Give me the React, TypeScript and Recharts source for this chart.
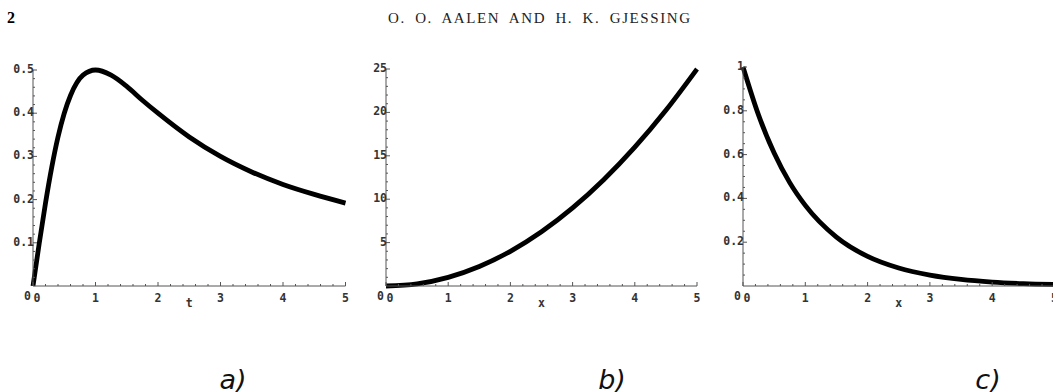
import React from 'react';
import { LineChart, Line, XAxis, YAxis, Label } from 'recharts';

// panel a) – hazard-like curve over t
const tA = [0, 0.1, 0.2, 0.3, 0.4, 0.5, 0.6, 0.8, 1, 1.25, 1.5, 1.75, 2, 2.5, 3, 3.5, 4, 4.5, 5];
const yA = [0, 0.099, 0.192, 0.275, 0.345, 0.4, 0.441, 0.488, 0.5, 0.488, 0.462, 0.43, 0.4, 0.345, 0.3, 0.264, 0.235, 0.212, 0.192];

// panel b) – rising curve over x
const xB = [0, 0.5, 1, 1.5, 2, 2.5, 3, 3.5, 4, 4.5, 5];
const yB = [0, 0.25, 1, 2.25, 4, 6.25, 9, 12.25, 16, 20.25, 25];

// panel c) – decaying curve over x
const xC = [0, 0.25, 0.5, 0.75, 1, 1.5, 2, 2.5, 3, 3.5, 4, 4.5, 5];
const yC = [1, 0.78, 0.607, 0.472, 0.368, 0.223, 0.135, 0.082, 0.05, 0.03, 0.018, 0.011, 0.007];

const xMajor = [0, 1, 2, 3, 4, 5];
const yMajorA = [0, 0.1, 0.2, 0.3, 0.4, 0.5];
const yMajorB = [0, 5, 10, 15, 20, 25];
const yMajorC = [0, 0.2, 0.4, 0.6, 0.8, 1];
const yLabelsA = ['0', '0.1', '0.2', '0.3', '0.4', '0.5'];
const yLabelsB = ['0', '5', '10', '15', '20', '25'];
const yLabelsC = ['0', '0.2', '0.4', '0.6', '0.8', '1'];

const captions = ['a)', 'b)', 'c)'];
const axisNames = ['t', 'x', 'x'];

const AXIS = '#555';
const TICK_FONT = '"DejaVu Sans Mono", monospace';
const AX_W = 30; // y axis band width
const AX_H = 30; // x axis band height

function steps(max: number, step: number) {
  const out: number[] = [];
  const n = Math.round(max / step);
  for (let i = 0; i <= n; i++) out.push(+(i * step).toFixed(4));
  return out;
}

function findMajor(v: number, majors: number[]) {
  return majors.findIndex((m) => Math.abs(m - v) < 1e-6);
}

function XTick(props: any) {
  const { x, y, payload } = props;
  const idx = findMajor(payload.value, xMajor);
  const major = idx >= 0;
  return (
    <g>
      <line x1={x} x2={x} y1={y} y2={y - (major ? 4 : 2)} stroke={AXIS} strokeWidth={1} />
      {major && (
        <text
          x={x + (payload.value === 0 ? 4 : 0)}
          y={y + 16}
          textAnchor="middle"
          fontFamily={TICK_FONT}
          fontWeight="bold"
          fontSize={11.5}
          fill="#333"
        >
          {String(xMajor[idx])}
        </text>
      )}
    </g>
  );
}

function makeYTick(majors: number[], labels: string[]) {
  return function YTick(props: any) {
    const { x, y, payload } = props;
    const idx = findMajor(payload.value, majors);
    const major = idx >= 0;
    const zero = payload.value === 0;
    return (
      <g>
        {!zero && <line x1={x} x2={x + (major ? 4 : 2)} y1={y} y2={y} stroke={AXIS} strokeWidth={1} />}
        {major && (
          <text
            x={zero ? x - 2 : x + 1}
            y={zero ? y + 14 : y + 3}
            textAnchor="end"
            fontFamily={TICK_FONT}
            fontWeight="bold"
            fontSize={11.5}
            fill="#333"
          >
            {labels[idx]}
          </text>
        )}
      </g>
    );
  };
}

interface PanelProps {
  xs: number[];
  ys: number[];
  yMax: number;
  yMajor: number[];
  yLabels: string[];
  yStep: number;
  left: number;
  right: number;
  top: number;
  axisName: string;
}

function Panel({ xs, ys, yMax, yMajor, yLabels, yStep, left, right, top, axisName }: PanelProps) {
  const bottom = 286;
  const data = xs.map((x, i) => ({ x, y: ys[i] }));
  const pad = 40;
  const chartTop = 40;
  const height = 280;
  const width = right - left + pad * 2;
  return (
    <div style={{ position: 'absolute', left: left - pad, top: chartTop }}>
      <LineChart
        width={width}
        height={height}
        data={data}
        margin={{
          top: top - chartTop,
          right: pad,
          left: pad - AX_W,
          bottom: height - (bottom - chartTop) - AX_H,
        }}
      >
        <XAxis
          dataKey="x"
          type="number"
          domain={[0, 5]}
          ticks={steps(5, 0.2)}
          interval={0}
          height={AX_H}
          tickSize={0}
          tickMargin={0}
          tickLine={false}
          axisLine={{ stroke: AXIS, strokeWidth: 1 }}
          tick={<XTick />}
        >
          <Label
            value={axisName}
            position="insideTop"
            offset={13}
            style={{ fontFamily: TICK_FONT, fontWeight: 'bold', fontSize: 11.5, fill: '#333' }}
          />
        </XAxis>
        <YAxis
          type="number"
          domain={[0, yMax]}
          ticks={steps(yMax, yStep)}
          interval={0}
          width={AX_W}
          tickSize={0}
          tickMargin={0}
          tickLine={false}
          axisLine={{ stroke: AXIS, strokeWidth: 1 }}
          tick={React.createElement(makeYTick(yMajor, yLabels))}
        />
        <Line
          dataKey="y"
          type="monotone"
          stroke="#000"
          strokeWidth={4.8}
          dot={false}
          isAnimationActive={false}
        />
      </LineChart>
    </div>
  );
}

export default function App() {
  return (
    <div
      style={{
        position: 'absolute',
        left: 0,
        top: 0,
        width: 1053,
        height: 392,
        overflow: 'hidden',
        background: '#fff',
      }}
    >
      <div
        style={{
          position: 'absolute',
          left: 7,
          top: 9,
          fontFamily: '"Liberation Serif", serif',
          fontWeight: 'bold',
          fontSize: 16,
        }}
      >
        2
      </div>
      <div
        style={{
          position: 'absolute',
          left: 388,
          top: 10,
          fontFamily: '"Liberation Serif", serif',
          fontSize: 15,
          letterSpacing: 1.6,
          wordSpacing: 4,
          color: '#222',
          whiteSpace: 'nowrap',
        }}
      >
        O. O. AALEN AND H. K. GJESSING
      </div>

      <Panel xs={tA} ys={yA} yMax={0.5} yMajor={yMajorA} yLabels={yLabelsA} yStep={0.02}
        left={32.5} right={345} top={70} axisName={axisNames[0]} />
      <Panel xs={xB} ys={yB} yMax={25} yMajor={yMajorB} yLabels={yLabelsB} yStep={1}
        left={385.7} right={696.7} top={69} axisName={axisNames[1]} />
      <Panel xs={xC} ys={yC} yMax={1} yMajor={yMajorC} yLabels={yLabelsC} yStep={0.05}
        left={742.5} right={1054} top={67} axisName={axisNames[2]} />

      {captions.map((c, i) => (
        <div
          key={c}
          style={{
            position: 'absolute',
            left: [233, 612, 988][i] - 40,
            width: 80,
            top: 364,
            textAlign: 'center',
            fontFamily: '"DejaVu Sans", sans-serif',
            fontStyle: 'italic',
            fontSize: 27,
            lineHeight: '32px',
            color: '#111',
          }}
        >
          {c}
        </div>
      ))}
    </div>
  );
}
